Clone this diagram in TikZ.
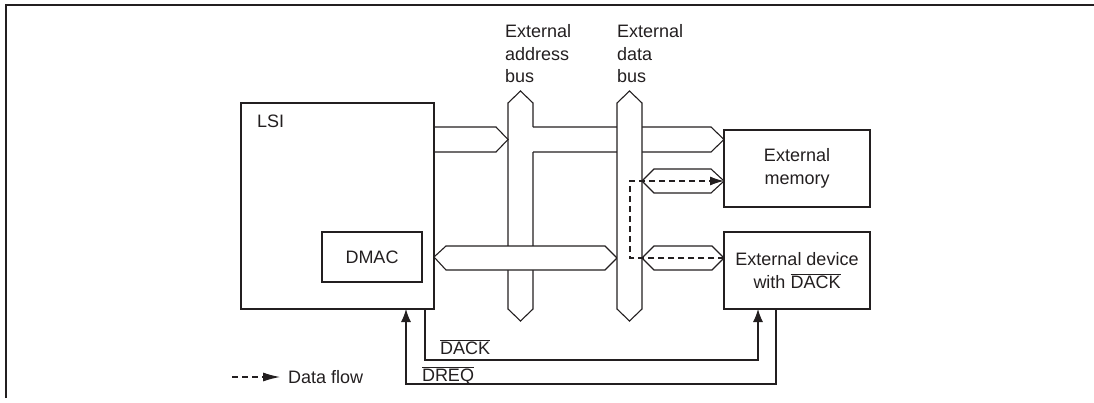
\documentclass[tikz,border=0pt]{standalone}
\usepackage{fontspec}
\setmainfont{Liberation Sans}
\usetikzlibrary{arrows.meta}
\definecolor{ink}{HTML}{231F20}
\newcommand\ovl[1]{\ensuremath{\overline{\mbox{#1}}}}
\begin{document}
\begin{tikzpicture}[x=1pt,y=-1pt,
  font=\fontsize{18}{22.5}\selectfont, text=ink,
  box/.style={draw=ink,line width=2.3pt,inner sep=0pt,outer sep=0pt},
  bus/.style={draw=ink,line width=1.1pt,line join=miter},
  sig/.style={draw=ink,line width=1.1pt},
  flow/.style={draw=ink,line width=1.1pt,dash pattern=on 6pt off 4pt},
  tip/.style={-{Latex[length=14pt,width=9pt]}},
  lbl/.style={inner sep=0pt,outer sep=0pt}]
\useasboundingbox (0,0) rectangle (1094,402);
% frame
\draw[ink,line width=2pt] (6,398) -- (6,5) -- (1094,5);

% boxes
\node[box,minimum width=193pt,minimum height=206pt] (lsi) at (337.5,206) {};
\node[lbl,anchor=base west] (lsilbl) at (257,127) {LSI};
\node[box,line width=2pt,minimum width=100pt,minimum height=50pt] (dmac) at (372,257) {DMAC};
\node[box,minimum width=146pt,minimum height=77pt,align=center] (mem) at (797,168.5) {External\\memory};
\node[box,minimum width=146pt,minimum height=77pt,align=center] (dev) at (797,270.5) {External device\\with \ovl{DACK}};

% bus labels
\node[lbl,anchor=west,align=left] (abl) at (505,54) {External\\address\\bus};
\node[lbl,anchor=west,align=left] (dbl) at (617,54) {External\\data\\bus};

% LSI -> address bus
\draw[bus] (lsi.east |- 0,127) -- (496,127) -- (508,139.5) -- (496,152) -- (lsi.east |- 0,152);
% address bus
\draw[bus] (533,127) -- (533,103) -- (520.5,91) -- (508,103) -- (508,309) -- (520.5,321) -- (533,309) -- (533,152);
% address bus -> memory
\draw[bus] (533,127) -- (711,127) -- (mem.west |- 0,139.5) -- (711,152) -- (533,152);
% DMAC <-> data bus
\draw[bus,fill=white] (lsi.east |- dmac) -- (446,246) -- (605,246) -- (617,258) -- (605,270) -- (446,270) -- cycle;
% data bus
\draw[bus,fill=white] (617,103) -- (629.5,91) -- (642,103) -- (642,309) -- (629.5,321) -- (617,309) -- cycle;
% data bus <-> memory
\draw[bus] (642,181) -- (654,169) -- (711,169) -- (724,181) -- (711,193) -- (654,193) -- cycle;
% data bus <-> device
\draw[bus] (642,258) -- (654,246) -- (712,246) -- (724,258) -- (712,270) -- (654,270) -- cycle;

% data flow
\draw[flow,tip] ([yshift=12.5pt]dev.west) -- (630,258) |- ([yshift=-12.5pt]mem.west);

% DACK / DREQ
\draw[sig,-{Latex[length=13pt,width=10pt]}] ([xshift=184pt]lsi.south west) -- ++(0,51) -| ([xshift=34pt]dev.south west);
\draw[sig,-{Latex[length=13pt,width=10pt]}] ([xshift=52pt]dev.south west) -- ++(0,75) -| ([xshift=165pt]lsi.south west);
\node[lbl,anchor=base west] (dack) at (440,354) {\ovl{DACK}};
\node[lbl,anchor=base west] (dreq) at (422,381) {\ovl{DREQ}};

% legend
\coordinate (lg0) at (232,377);
\node[lbl,anchor=base west] (lgd) at (288,383) {Data flow};
\draw[flow,-{Latex[length=17pt,width=9pt]}] (lg0) -- ++(48,0);
\end{tikzpicture}
\end{document}
